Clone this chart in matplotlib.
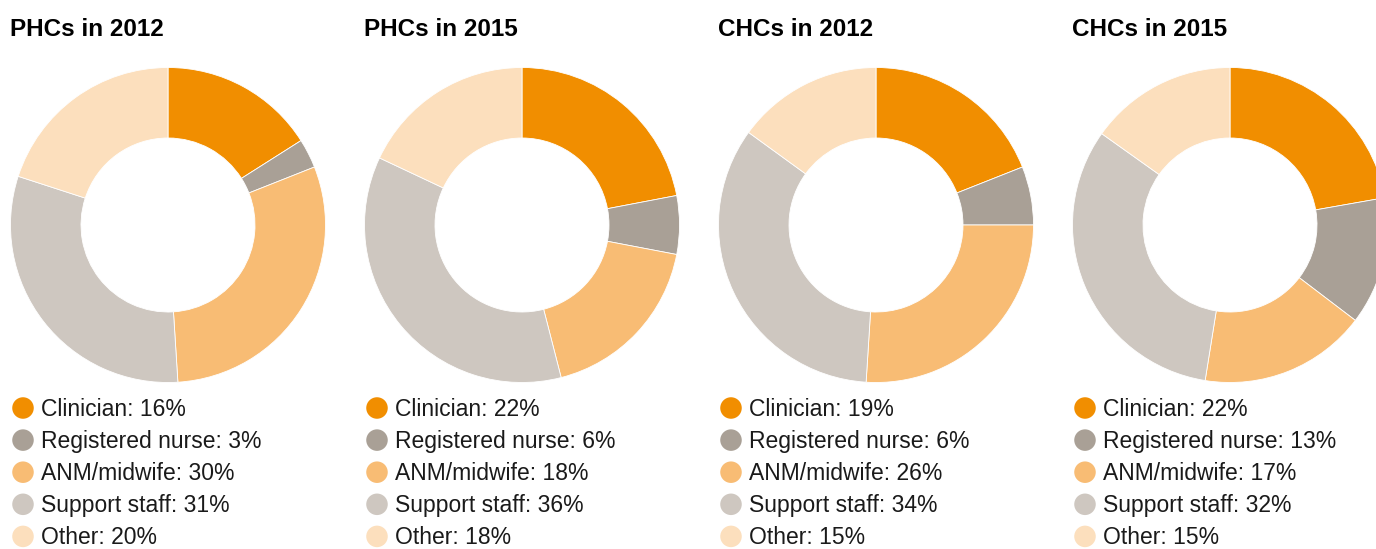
import matplotlib.pyplot as plt

titles = ['PHCs in 2012', 'PHCs in 2015', 'CHCs in 2012', 'CHCs in 2015']
categories = ['Clinician', 'Registered nurse', 'ANM/midwife', 'Support staff', 'Other']
phc_2012 = [16, 3, 30, 31, 20]
phc_2015 = [22, 6, 18, 36, 18]
chc_2012 = [19, 6, 26, 34, 15]
chc_2015 = [22, 13, 17, 32, 15]
series = [phc_2012, phc_2015, chc_2012, chc_2015]

colors = ['#f18e00', '#a9a096', '#f8bc74', '#cec7c0', '#fcdfbd']

W, H = 1376, 549
plt.rcParams['font.family'] = ['Liberation Sans', 'DejaVu Sans']
fig = plt.figure(figsize=(W / 100, H / 100), dpi=100)
fig.patch.set_facecolor('white')

# overlay in pixel coordinates for titles and legends
over = fig.add_axes([0, 0, 1, 1])
over.set_xlim(0, W)
over.set_ylim(H, 0)
over.axis('off')

R = 157.5      # outer radius in px
cy = 225
step = 354
box = 162

for i, (title, vals) in enumerate(zip(titles, series)):
    cx = 168 + i * step
    ax = fig.add_axes([(cx - box) / W, (H - cy - box) / H, 2 * box / W, 2 * box / H])
    ax.pie(vals, colors=colors, startangle=90, counterclock=False, radius=1,
           wedgeprops=dict(width=(R - 87) / R, edgecolor='white', linewidth=0.6))
    ax.set_xlim(-box / R, box / R)
    ax.set_ylim(-box / R, box / R)
    ax.set_aspect('equal')
    ax.axis('off')

    x0 = 10 + i * step
    over.text(x0, 36, title, fontsize=17.5, fontweight='bold', ha='left', va='baseline')

    for j, (cat, v) in enumerate(zip(categories, vals)):
        y = 408 + j * 32.1
        over.scatter([x0 + 13], [y], s=240, color=colors[j], edgecolors='none')
        over.text(x0 + 31, y + 8, f'{cat}: {v}%', fontsize=16.5, color='#1a1a1a',
                  ha='left', va='baseline')

fig.savefig('out.png', dpi=100, facecolor='white')
